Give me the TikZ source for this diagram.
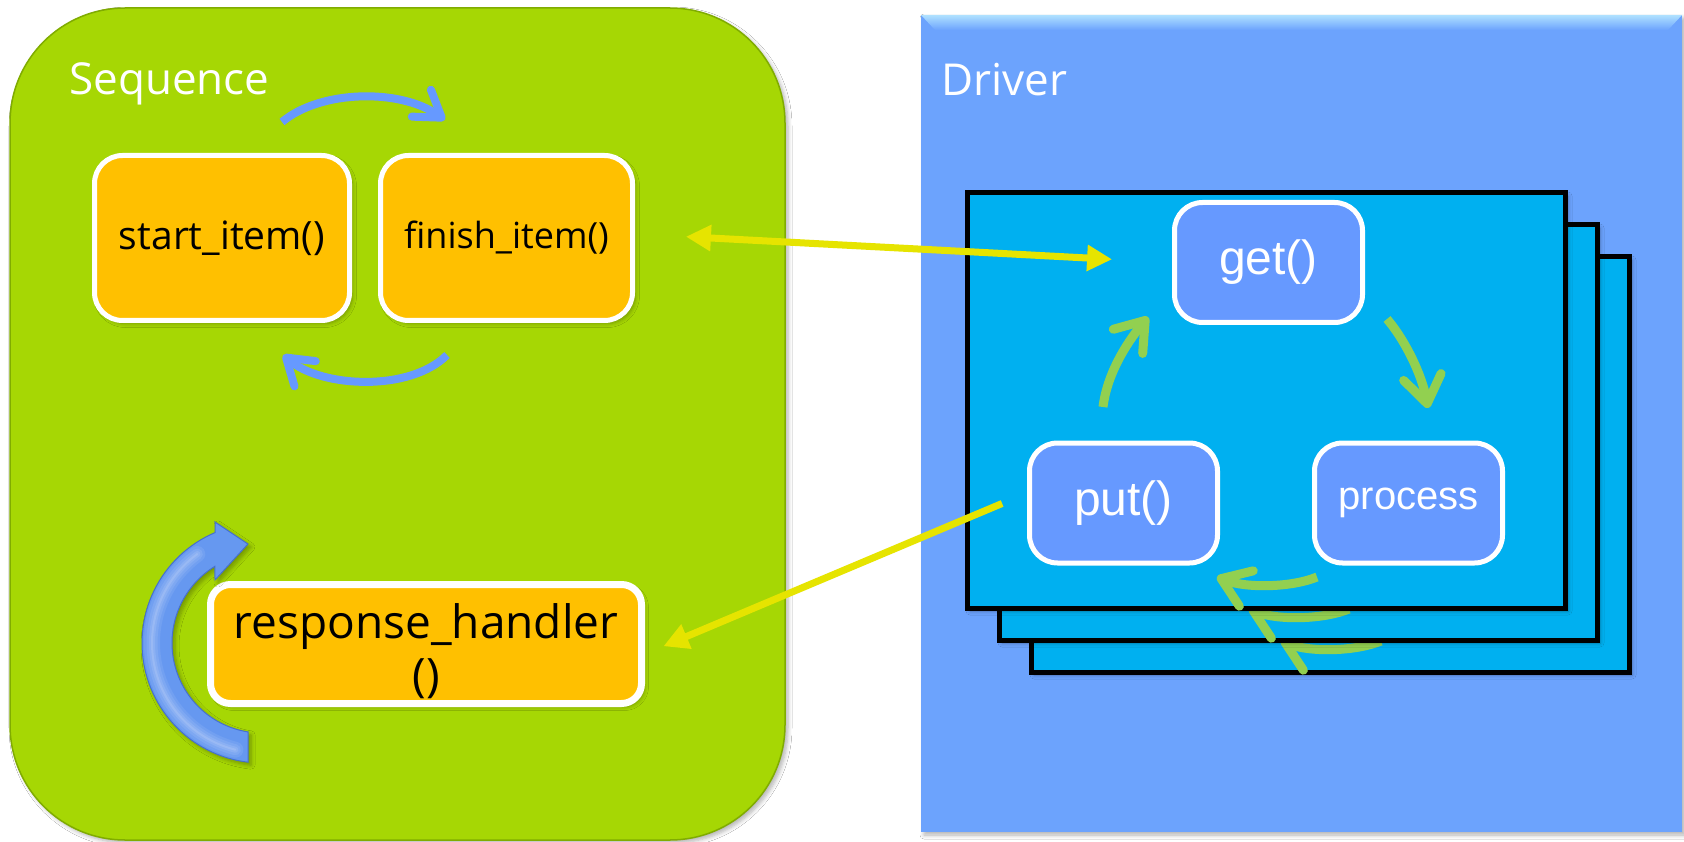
\documentclass[tikz,border=0pt]{standalone}
\usepackage{fontspec}
\setmainfont{Open Sans}
\newfontfamily\innerfont{Liberation Sans}
\usetikzlibrary{arrows.meta,calc,shadows.blur}

\definecolor{seqgreen}{RGB}{166,215,4}
\definecolor{seqedge}{RGB}{128,172,0}
\definecolor{drvblue}{RGB}{108,163,253}
\definecolor{drvlight}{RGB}{175,225,255}
\definecolor{layercyan}{RGB}{0,176,240}
\definecolor{orangebox}{RGB}{255,192,0}
\definecolor{callblue}{RGB}{102,153,255}
\definecolor{flowgreen}{RGB}{146,208,80}
\definecolor{linkyellow}{RGB}{230,228,0}
\definecolor{turnblue}{RGB}{102,152,240}
\definecolor{turnedge}{RGB}{70,112,205}

\newcommand{\fs}[2]{\fontsize{#1}{#2}\selectfont}

\tikzset{
  softshadow/.style={blur shadow={shadow xshift=3pt, shadow yshift=-3pt,
      shadow blur radius=4pt, shadow blur steps=6, shadow opacity=30}},
  itembox/.style={draw=white, line width=5pt, fill=orangebox,
      rounded corners=28pt, inner sep=0pt, minimum width=255pt,
      minimum height=165pt, softshadow},
  callbox/.style={draw=white, line width=5pt, fill=callblue,
      rounded corners=28pt, inner sep=0pt, minimum width=188pt,
      minimum height=120pt, text=white, font=\innerfont\fs{48}{58}},
  layerbox/.style={draw=black, line width=5pt, fill=layercyan,
      inner sep=0pt, minimum width=598pt, minimum height=415pt, softshadow},
  flowarrow/.style={draw=flowgreen, line width=9pt,
      -{Straight Barb[length=27pt,width=38pt,round]}},
  cyclearrow/.style={draw=callblue, line width=8pt,
      -{Straight Barb[length=25pt,width=33pt,round]}},
  linkarrow/.style={draw=linkyellow, line width=7pt},
  linkhead/.tip={Triangle[length=25pt,width=25pt]},
  paneltitle/.style={anchor=base west, text=white, inner sep=0pt,
      font=\fs{44}{52}}
}

% return arrow inside one driver layer, from process back to put
\newcommand{\returnarrow}{%
  \draw[flowarrow] (1317,577) .. controls (1290,588) and (1245,588) .. (1217,577);}

\begin{document}
\begin{tikzpicture}[x=1pt,y=-1pt]
\useasboundingbox (0,0) rectangle (1684,842);
\fill[white] (0,0) rectangle (1684,842);

% ---------------- sequence panel ----------------
\fill[seqgreen, draw=seqedge, line width=1.5pt, rounded corners=115pt, softshadow]
  (10,8) rectangle (785,840);
\node[paneltitle] (seqtitle) at (69,95) {Sequence};

% ---------------- driver panel ----------------
\fill[drvblue, softshadow] (921,15) rectangle (1682,832);
\shade[top color=drvlight, bottom color=drvblue]
  (921,15) -- (1682,15) -- (1668,30) -- (935,30) -- cycle;
\node[paneltitle] (drvtitle) at (941,96) {Driver};

% stacked driver layers, back to front
\node[layerbox] (layer3) at (1330,464.5) {};
\begin{scope}[shift={(64,64)}]\returnarrow\end{scope}
\node[layerbox] (layer2) at (1298,432.5) {};
\begin{scope}[shift={(32,32)}]\returnarrow\end{scope}
\node[layerbox] (layer1) at (1266,400.5) {};
\returnarrow

% driver calls
\node[callbox] (get) at (1268.5,262.5) {get()};
\node[callbox] (put) at (1123.5,503) {put()};
\node[callbox, font=\innerfont\fs{40}{48}] (process) at (1408.5,503) {process};

\coordinate (putout) at (1103,407);
\coordinate (getin) at (1148,317);
\coordinate (getout) at (1387,319);
\coordinate (procin) at (1428,408);
\draw[flowarrow] (putout) .. controls (1107,375) and (1125,345) .. (getin);
\draw[flowarrow] (getout) .. controls (1405,340) and (1422,375) .. (procin);

% ---------------- sequence items ----------------
\node[itembox, font=\fs{39}{47}] (start) at (222,238) {start\_item()};
\node[itembox, minimum width=252pt, font=\fs{36}{44}] (finish) at (506.5,238) {finish\_item()};
\node[itembox, line width=7pt, rounded corners=20pt, minimum width=431pt,
      minimum height=119pt] (resp) at (426,644) {};
\node[anchor=north, align=center, inner sep=0pt, font=\fs{46}{53}]
  (resptext) at (426,603) {response\_handler\\()};

\coordinate (startup) at (282,122);
\coordinate (finishup) at (445,120);
\coordinate (finishdown) at (447,355);
\coordinate (startdown) at (283,355);
\draw[cyclearrow] (startup) .. controls (320,90) and (400,88) .. (finishup);
\draw[cyclearrow] (finishdown) .. controls (410,392) and (322,388) .. (startdown);

% curved 3-D arrow beside the response handler
\fill[turnblue, draw=turnedge, line width=1pt, softshadow]
  plot[domain=96.7:247, samples=60] ({262+120*cos(\x)},{643+120*sin(\x)})
  -- (215,522) -- (248,544) -- (215,580)
  -- plot[domain=238.5:98.9, samples=60] ({262+90*cos(\x)},{643+90*sin(\x)})
  -- cycle;
\foreach \w/\o in {16/0.08, 11/0.09, 6/0.10, 2/0.12}
  \draw[white, opacity=\o, line width=\w pt, line cap=round]
    plot[domain=104:234, samples=50] ({262+110*cos(\x)},{643+110*sin(\x)});

% ---------------- links between sequence and driver ----------------
\draw[linkarrow, linkhead-linkhead, shorten <=51pt, shorten >=60pt]
  ([yshift=4pt]finish.east) -- (get.west);
\draw[linkarrow, -linkhead, shorten <=27pt, shorten >=20pt]
  ([yshift=10pt]put.west) -- ([yshift=-10pt]resp.east);
\end{tikzpicture}
\end{document}
